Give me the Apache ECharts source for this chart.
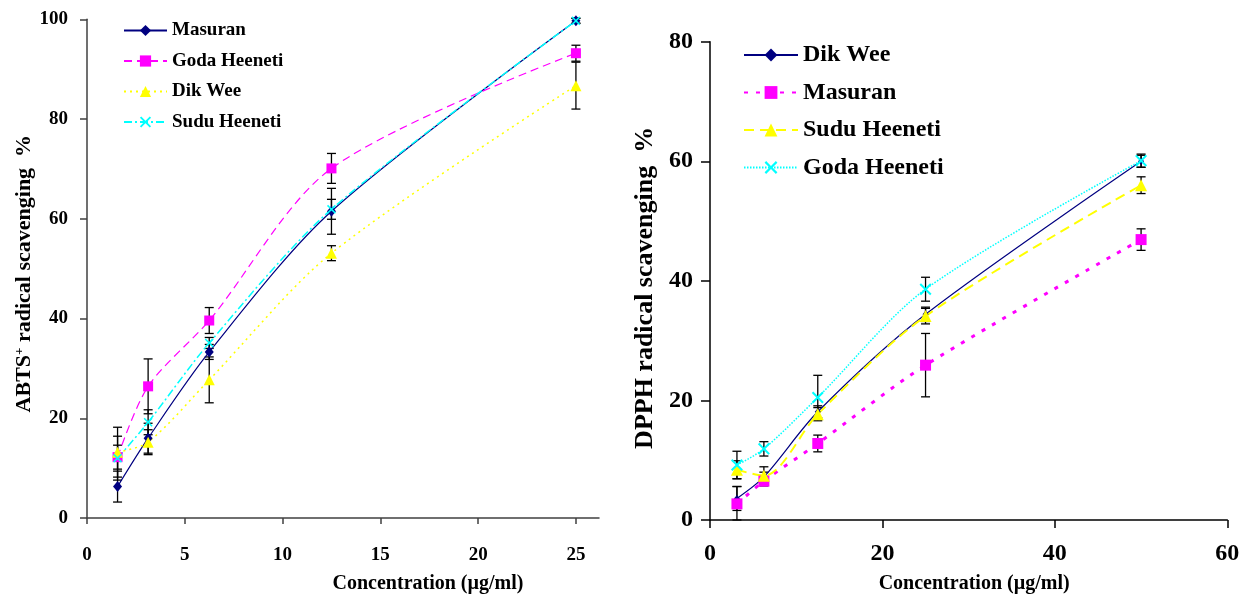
<!DOCTYPE html>
<html><head><meta charset="utf-8">
<script src="https://cdn.jsdelivr.net/npm/echarts@6/dist/echarts.min.js"></script>
<style>html,body{margin:0;padding:0;background:#fff}#c{width:1257px;height:599px}</style>
</head><body><div id="c"></div>
<script>
// ---------- DATA ----------
const concABTS = [1.5625, 3.125, 6.25, 12.5, 25];
const abtsMasuran = [6.3, 16.0, 33.3, 61.5, 99.7];
const abtsMasuranErr = [3.1, 3.0, 1.5, 4.6, 0.5];
const abtsGoda = [12.2, 26.4, 39.6, 70.1, 93.2];
const abtsGodaErr = [2.4, 5.5, 2.6, 3.0, 1.6];
const abtsDikWee = [13.2, 15.2, 27.7, 53.1, 86.7];
const abtsDikWeeErr = [5.0, 2.5, 4.6, 1.5, 4.7];
const abtsSudu = [12.0, 19.2, 35.1, 61.9, 99.7];
const abtsSuduErr = [4.4, 2.5, 1.1, 2.0, 0.5];

const concDPPH = [3.125, 6.25, 12.5, 25, 50];
const dpphDikWee = [3.6, 7.2, 18.1, 34.4, 60.0];
const dpphDikWeeErr = [2.0, 0.8, 1.0, 1.2, 1.0];
const dpphMasuran = [2.7, 6.5, 12.8, 25.9, 46.9];
const dpphMasuranErr = [2.9, 0.8, 1.4, 5.3, 1.8];
const dpphSudu = [8.4, 7.4, 17.7, 34.1, 56.0];
const dpphSuduErr = [1.5, 1.5, 1.1, 1.3, 1.4];
const dpphGoda = [9.2, 11.9, 20.5, 38.6, 60.1];
const dpphGodaErr = [2.3, 1.2, 3.7, 2.0, 1.1];

const abtsXTicks = [0, 5, 10, 15, 20, 25];
const abtsNames = ['Masuran', 'Goda Heeneti', 'Dik Wee', 'Sudu Heeneti'];
const dpphNames = ['Dik Wee', 'Masuran', 'Sudu Heeneti', 'Goda Heeneti'];
const abtsXName = 'Concentration (µg/ml)';
const dpphXName = 'Concentration (µg/ml)';
const dpphYName = 'DPPH radical scavenging  %';

// ---------- CHART ----------
const FONT = '"Liberation Serif", "Times New Roman", serif';
const XSYM = 'path://M0,1.2L1.2,0L5,3.8L8.8,0L10,1.2L6.2,5L10,8.8L8.8,10L5,6.2L1.2,10L0,8.8L3.8,5Z';
const pairs = (xs, ys) => xs.map((x, i) => [x, ys[i]]);
const triples = (xs, ys, es) => xs.map((x, i) => [x, ys[i], es[i]]);

function errRender(params, api) {
  const x = api.value(0), y = api.value(1), e = api.value(2);
  const top = api.coord([x, y + e]);
  const bot = api.coord([x, Math.max(0, y - e)]);
  const w = 4.5;
  const st = { stroke: '#000', lineWidth: 1.3 };
  return { type: 'group', children: [
    { type: 'line', shape: { x1: top[0], y1: top[1], x2: bot[0], y2: bot[1] }, style: st },
    { type: 'line', shape: { x1: top[0] - w, y1: top[1], x2: top[0] + w, y2: top[1] }, style: st },
    { type: 'line', shape: { x1: bot[0] - w, y1: bot[1], x2: bot[0] + w, y2: bot[1] }, style: st }
  ]};
}
function errSeries(idx, xs, ys, es) {
  return { type: 'custom', xAxisIndex: idx, yAxisIndex: idx, renderItem: errRender,
    data: triples(xs, ys, es), z: 1, silent: true };
}
function lineSeries(idx, prefix, name, xs, ys, color, ltype, lw, sym, size) {
  return { type: 'line', name: prefix + '|' + name, xAxisIndex: idx, yAxisIndex: idx,
    data: pairs(xs, ys), smooth: 0.3, symbol: sym, symbolSize: size, z: 3,
    lineStyle: { color: color, width: lw, type: ltype },
    itemStyle: { color: color, borderWidth: 0 }, emphasis: { disabled: true } };
}

const chart = echarts.init(document.getElementById('c'), null, { renderer: 'canvas' });
chart.setOption({
  backgroundColor: '#fff',
  animation: false,
  grid: [
    { left: 87, top: 19.3, right: 1257 - 599, bottom: 599 - 523.3 },
    { left: 710, top: 41.7, right: 1257 - 1227.3, bottom: 599 - 520 }
  ],
  legend: [
    { data: abtsNames.map(n => 'A|' + n), orient: 'vertical', left: 118, top: 16, itemWidth: 43, itemHeight: 14, itemGap: 11.5,
      formatter: n => n.split('|')[1], selectedMode: false,
      textStyle: { fontFamily: FONT, fontWeight: 'bold', fontSize: 19, color: '#000' } },
    { data: dpphNames.map(n => 'D|' + n), orient: 'vertical', left: 738, top: 38, itemWidth: 54, itemHeight: 16, itemGap: 13.5,
      formatter: n => n.split('|')[1], selectedMode: false,
      textStyle: { fontFamily: FONT, fontWeight: 'bold', fontSize: 24, color: '#000' } }
  ],
  xAxis: [
    { type: 'value', gridIndex: 0, min: 0, max: 26.18, interval: 5,
      axisLine: { lineStyle: { color: '#404040', width: 1.5 } },
      axisTick: { inside: false, length: 6, lineStyle: { color: '#404040', width: 1.5 }, customValues: abtsXTicks },
      axisLabel: { customValues: abtsXTicks, margin: 28, fontFamily: FONT, fontWeight: 'bold', fontSize: 19, color: '#000' },
      splitLine: { show: false },
      name: abtsXName, nameLocation: 'middle', nameGap: 56,
      nameTextStyle: { fontFamily: FONT, fontWeight: 'bold', fontSize: 20, color: '#000', padding: [0, 0, 0, 170] } },
    { type: 'value', gridIndex: 1, min: 0, max: 60, interval: 20,
      axisLine: { lineStyle: { color: '#000', width: 1.5 } },
      axisTick: { inside: false, length: 8, lineStyle: { color: '#000', width: 1.5 } },
      axisLabel: { margin: 22, fontFamily: FONT, fontWeight: 'bold', fontSize: 24, color: '#000' },
      splitLine: { show: false },
      name: dpphXName, nameLocation: 'middle', nameGap: 54,
      nameTextStyle: { fontFamily: FONT, fontWeight: 'bold', fontSize: 20, color: '#000', padding: [0, 0, 0, 11] } }
  ],
  yAxis: [
    { type: 'value', gridIndex: 0, min: 0, max: 100, interval: 20,
      axisLine: { show: true, lineStyle: { color: '#404040', width: 1.5 } },
      axisTick: { show: true, inside: false, length: 7, lineStyle: { color: '#404040', width: 1.5 } },
      axisLabel: { margin: 19, fontFamily: FONT, fontWeight: 'bold', fontSize: 19, color: '#000' },
      splitLine: { show: false },
      name: 'ABTS{sup|+} radical scavenging  %', nameLocation: 'middle', nameGap: 51,
      nameTextStyle: { fontFamily: FONT, fontWeight: 'bold', fontSize: 22, color: '#000', padding: [0, 10, 0, 0],
        rich: { sup: { fontFamily: FONT, fontWeight: 'bold', fontSize: 13, color: '#000', verticalAlign: 'top', padding: [0, 0, 8, 0] } } } },
    { type: 'value', gridIndex: 1, min: 0, max: 80, interval: 20,
      axisLine: { show: true, lineStyle: { color: '#000', width: 1.5 } },
      axisTick: { show: true, inside: false, length: 9, lineStyle: { color: '#000', width: 1.5 } },
      axisLabel: { margin: 17, fontFamily: FONT, fontWeight: 'bold', fontSize: 24, color: '#000' },
      splitLine: { show: false },
      name: dpphYName, nameLocation: 'middle', nameGap: 52,
      nameTextStyle: { fontFamily: FONT, fontWeight: 'bold', fontSize: 26, color: '#000', padding: [0, 14, 0, 0] } }
  ],
  series: [
    errSeries(0, concABTS, abtsMasuran, abtsMasuranErr),
    errSeries(0, concABTS, abtsGoda, abtsGodaErr),
    errSeries(0, concABTS, abtsDikWee, abtsDikWeeErr),
    errSeries(0, concABTS, abtsSudu, abtsSuduErr),
    lineSeries(0, 'A', 'Masuran', concABTS, abtsMasuran, '#000080', 'solid', 1.2, 'diamond', [9, 11]),
    lineSeries(0, 'A', 'Goda Heeneti', concABTS, abtsGoda, '#FF00FF', [8, 5], 1.2, 'rect', 10),
    lineSeries(0, 'A', 'Dik Wee', concABTS, abtsDikWee, '#FFFF00', [2, 4], 1.5, 'triangle', 11),
    lineSeries(0, 'A', 'Sudu Heeneti', concABTS, abtsSudu, '#00FFFF', [8, 3, 2, 3], 1.5, XSYM, 9),

    errSeries(1, concDPPH, dpphDikWee, dpphDikWeeErr),
    errSeries(1, concDPPH, dpphMasuran, dpphMasuranErr),
    errSeries(1, concDPPH, dpphSudu, dpphSuduErr),
    errSeries(1, concDPPH, dpphGoda, dpphGodaErr),
    lineSeries(1, 'D', 'Dik Wee', concDPPH, dpphDikWee, '#000080', 'solid', 1.2, 'diamond', [6, 7]),
    lineSeries(1, 'D', 'Masuran', concDPPH, dpphMasuran, '#FF00FF', [4, 8], 3, 'rect', 11),
    lineSeries(1, 'D', 'Sudu Heeneti', concDPPH, dpphSudu, '#FFFF00', [10, 6], 2, 'triangle', 12),
    lineSeries(1, 'D', 'Goda Heeneti', concDPPH, dpphGoda, '#00FFFF', [1.5, 1.5], 1.5, XSYM, 12)
  ]
});
</script>
</body></html>
